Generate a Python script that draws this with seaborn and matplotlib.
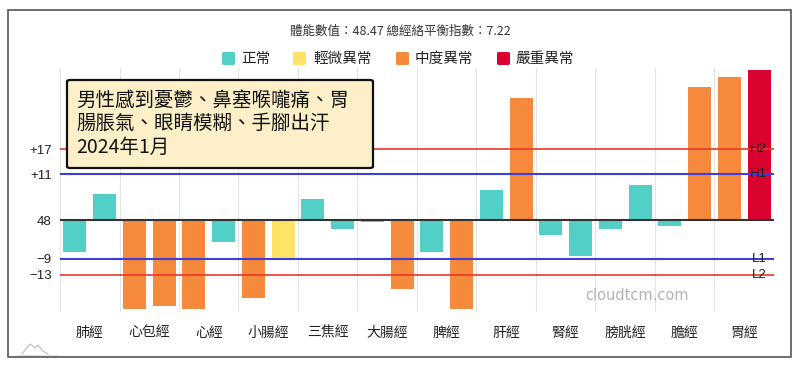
import matplotlib
matplotlib.use("Agg")
import matplotlib.pyplot as plt
from matplotlib.patches import FancyBboxPatch, Rectangle
from matplotlib.lines import Line2D
import seaborn as sns
import pandas as pd

# ---------------- data ----------------
meridians = ['肺經', '心包經', '心經', '小腸經', '三焦經', '大腸經',
             '脾經', '肝經', '腎經', '膀胱經', '膽經', '胃經']
left_vals = [-7.5, -21.2, -21.2, -18.6, 5.1, -0.3, -7.5, 7.2, -3.5, -2.1, -1.3, 34.1]
right_vals = [6.2, -20.5, -5.3, -9.1, -2.0, -16.3, -21.2, 29.3, -8.5, 8.4, 31.7, 35.9]
left_status = ['正常', '中度異常', '中度異常', '中度異常', '正常', '正常',
               '正常', '正常', '正常', '正常', '正常', '中度異常']
right_status = ['正常', '中度異常', '正常', '輕微異常', '正常', '中度異常',
                '中度異常', '中度異常', '正常', '正常', '中度異常', '嚴重異常']
status_levels = ['正常', '輕微異常', '中度異常', '嚴重異常']
status_colors = ['#52cfc6', '#ffe266', '#f5893c', '#d8032f']

threshold_names = ['H2', 'H1', 'L1', 'L2']
threshold_vals = [17, 11, -9.2, -13]
threshold_colors = ['#e8372d', '#3d3ddb', '#3d3ddb', '#e8372d']
ytick_vals = [17, 11, 0, -9.2, -13]
ytick_labels = ['+17', '+11', '48', '−9', '−13']

title_text = '體能數值：48.47 總經絡平衡指數：7.22'
note_lines = ['男性感到憂鬱、鼻塞喉嚨痛、胃', '腸脹氣、眼睛模糊、手腳出汗', '2024年1月']
watermark = 'cloudtcm.com'

# ---------------- figure ----------------
sns.set_style('white')
plt.rcParams['font.family'] = ['Noto Sans CJK TC', 'DejaVu Sans']

W, H = 800, 369
fig = plt.figure(figsize=(W / 100, H / 100), dpi=100)
fig.patch.set_facecolor('white')

def fx(px):
    return px / W

def fy(py):
    return 1 - py / H

ax_l, ax_r, ax_t, ax_b = 60, 774, 68, 312
ax = fig.add_axes([fx(ax_l), fy(ax_b), fx(ax_r - ax_l), (ax_b - ax_t) / H])

df = pd.DataFrame({
    'meridian': meridians * 2,
    'side': ['L'] * len(meridians) + ['R'] * len(meridians),
    'value': left_vals + right_vals,
})

sns.barplot(data=df, x='meridian', y='value', hue='side', order=meridians,
            hue_order=['L', 'R'], width=1.0, gap=0.22, dodge=True,
            errorbar=None, legend=False, linewidth=0, ax=ax)

cmap = dict(zip(status_levels, status_colors))
for p in ax.patches:
    xc = p.get_x() + p.get_width() / 2
    k = int(round((xc + 0.25) * 2))
    i, s = k // 2, k % 2
    st = left_status[i] if s == 0 else right_status[i]
    p.set_facecolor(cmap[st])
    p.set_edgecolor('none')
    p.set_zorder(2)

n = len(meridians)
ax.set_xlim(-0.5, n - 0.5)
ax.set_ylim(-21.9, 36.35)

# vertical category grid
for b in range(n + 1):
    ax.axvline(b - 0.5, color='#e4e4e4', lw=0.8, zorder=1)

# threshold lines
ax.axhline(0, color='#333333', lw=1.5, zorder=4)
for name, v, c in zip(threshold_names, threshold_vals, threshold_colors):
    ax.axhline(v, color=c, lw=1.5 if c.startswith('#3d') else 1.2, zorder=4)
    ax.text(n - 0.62, v, name, ha='right', va='center', fontsize=9.5,
            color='#222222', zorder=5, family=['Liberation Sans', 'DejaVu Sans'])

for sp in ax.spines.values():
    sp.set_visible(False)

ax.set_yticks(ytick_vals)
ax.set_yticklabels(ytick_labels)
ax.set_xticks(range(n))
ax.set_xticklabels(meridians)
ax.tick_params(axis='y', length=0, pad=6, labelsize=9.5, labelcolor='#222222')
ax.tick_params(axis='x', length=0, pad=10, labelsize=10, labelcolor='#222222')
for t in ax.get_yticklabels():
    t.set_family(['Liberation Sans', 'DejaVu Sans'])
ax.set_xlabel('')
ax.set_ylabel('')
ax.grid(False)

# ---------------- title & legend ----------------
fig.text(0.5, fy(31), title_text, ha='center', va='center', fontsize=9, color='#333333')

leg_items = [(222, 241), (293, 313), (396, 415), (497, 516)]
for (sx, tx), lab, col in zip(leg_items, status_levels, status_colors):
    fig.add_artist(FancyBboxPatch((fx(sx), fy(65)), fx(13), 13 / H,
                                  boxstyle='round,pad=0,rounding_size=0.003',
                                  transform=fig.transFigure, facecolor=col,
                                  edgecolor='none'))
    fig.text(fx(tx), fy(58.5), lab, ha='left', va='center', fontsize=10.5, color='#222222')

# ---------------- note box ----------------
fig.add_artist(FancyBboxPatch((fx(67), fy(168)), fx(373 - 67), (168 - 80) / H,
                              boxstyle='round,pad=0,rounding_size=0.004',
                              transform=fig.transFigure, facecolor='#fdf0c9',
                              edgecolor='#111111', linewidth=1.6, zorder=6))
for yy, line in zip([100, 123.5, 147], note_lines):
    fig.text(fx(76), fy(yy), line, ha='left', va='center', fontsize=14,
             color='#111111', zorder=7)

# ---------------- watermark & frame ----------------
fig.text(fx(637), fy(295.5), watermark, ha='center', va='center', fontsize=10.5,
         color='#b3b3b3', family=['DejaVu Sans'])

fig.add_artist(Rectangle((fx(8), fy(357)), fx(791 - 8), (357 - 10) / H,
                         transform=fig.transFigure, facecolor='none',
                         edgecolor='#555555', linewidth=1.2))

# small logo mark bottom-left
fig.add_artist(Line2D([fx(22), fx(30), fx(35), fx(38), fx(43), fx(48)],
                      [fy(354), fy(344), fy(348), fy(345), fy(351), fy(354)],
                      transform=fig.transFigure, color='#bbbbbb', lw=0.8))
fig.add_artist(Line2D([fx(15), fx(58)], [fy(355), fy(355)],
                      transform=fig.transFigure, color='#dddddd', lw=0.6))

fig.savefig('out.png', dpi=100, facecolor='white')
